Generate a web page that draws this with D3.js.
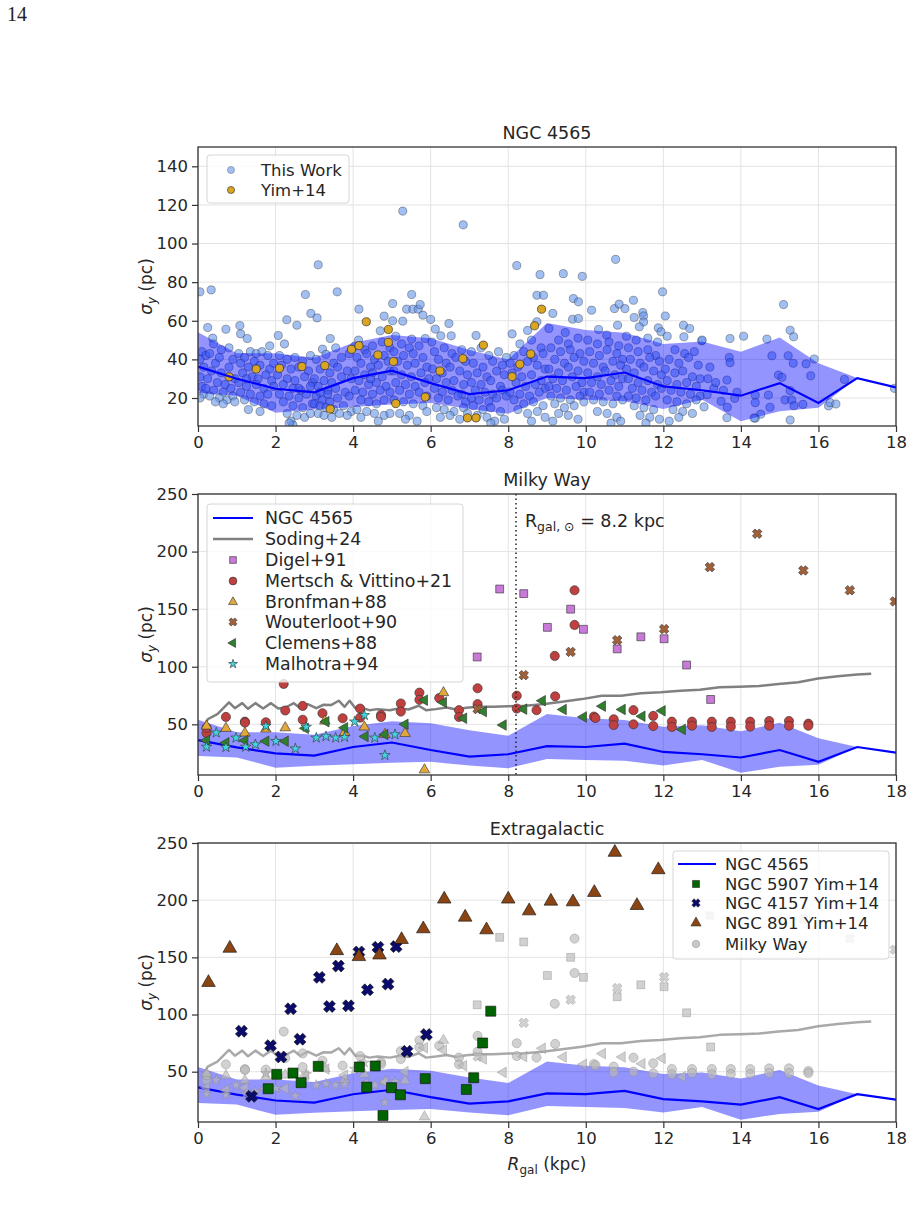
<!DOCTYPE html>
<html>
<head>
<meta charset="utf-8">
<script src="https://cdn.jsdelivr.net/npm/d3@7"></script>
<style>
  body { margin: 0; background: #fff; }
  svg { display: block; font-family: "DejaVu Sans", sans-serif; }
</style>
</head>
<body>
<div id="chart"></div>
<script>
// ---------------- data ----------------
// NGC 4565 binned mean and spread
var binR = [0,1,2,3,4,5,6,7,8,9,10,11,12,13,14,15,16,17,18];
var binMean = [36.3,30,24.8,22.9,30.3,34.2,27.7,22,24,31.1,30.3,33.2,26,24,21.2,27.7,17.4,30.3,25.5];
var bandR = [0,1,2,3,4,5,6,7,8,9,10,11,12,13,14,15,16,17];
var bandLow = [22.6,21.2,12.3,14,15.4,16.6,17.4,14.3,11.9,20,19.1,18.3,14.3,19.1,8,13.1,14.9,30.3];
var bandHigh = [54,43.2,43.2,40.9,48.6,52.6,50.9,44.9,40,58.9,55.2,53.8,48,49.2,44,51.4,38,30.3];

// NGC 4565 clouds, This Work [R, sigma]
var thisWork = [
  [0.05,75],[0.34,76],[0.25,56.5],[0.38,51],[0.72,55.6],[0.1,44],[0.2,42],[0.05,40],[0.3,43],[0.45,38],[0.55,41],[0.15,36],[0.35,34],[0.6,33],[0.8,36],[0.9,40],[0.05,31],[0.25,30],[0.5,28],[0.7,27],[0.95,30],[0.1,26],[0.4,24],[0.65,23],[0.85,25],[0.15,22],[0.3,21],[0.55,20],[0.75,19],[0.9,21],[0.05,20],[0.45,18],[0.65,17],[0.95,18],[0.2,25],[0.8,46],[0.6,45],[0.4,48],
  [1.08,57.5],[1.1,53.2],[1.27,50.8],[1.05,43],[1.2,41],[1.35,44],[1.5,43],[1.65,44],[1.8,42],[1.1,38],[1.3,36],[1.45,39],[1.6,37],[1.85,35],[1.95,38],[1.15,33],[1.4,31],[1.55,30],[1.75,32],[1.9,29],[1.05,28],[1.25,26],[1.5,27],[1.7,25],[1.95,26],[1.1,23],[1.35,22],[1.6,21],[1.8,22],[1.2,19],[1.45,18],[1.7,17],[1.9,16],[1.3,14],[1.6,13],[1.25,30],[1.85,47],
  [2.07,52.4],[2.23,48],[2.29,60.5],[2.55,57.7],[2.77,73.6],[2.91,63.8],[2.1,42],[2.3,40],[2.5,41],[2.7,39],[2.9,42],[2.15,37],[2.4,35],[2.6,36],[2.85,34],[2.05,32],[2.3,30],[2.5,29],[2.75,31],[2.95,28],[2.2,27],[2.45,25],[2.65,24],[2.9,26],[2.1,22],[2.35,21],[2.6,20],[2.8,22],[2.2,18],[2.45,16],[2.7,15],[2.95,17],[2.3,12],[2.4,8],[2.45,6],[2.35,7],[2.55,11],[2.75,10],[2.9,12],[2.6,25],
  [3.07,61.5],[3.1,89],[3.59,75],[3.41,50.8],[3.21,45.3],[3.3,42.6],[3.05,40],[3.5,38],[3.7,41],[3.9,43],[3.15,35],[3.4,33],[3.6,36],[3.85,34],[3.0,30],[3.25,29],[3.45,28],[3.7,31],[3.95,30],[3.1,26],[3.35,24],[3.55,25],[3.8,23],[3.05,21],[3.2,19],[3.4,18],[3.6,20],[3.9,21],[3.0,17],[3.15,16],[3.3,15],[3.5,14],[3.75,16],[3.95,13],[3.1,12],[3.25,11],[3.45,10],[3.65,12],[3.85,11],[3.35,22],[3.15,23],[3.55,46],
  [4.15,66],[4.14,50],[4.8,62.4],[4.7,54.8],[4.05,47],[4.3,45],[4.5,47],[4.75,49],[4.95,46],[4.1,41],[4.35,43],[4.55,40],[4.8,42],[4.2,38],[4.45,36],[4.65,37],[4.9,39],[4.05,34],[4.3,32],[4.5,33],[4.75,31],[4.95,34],[4.15,29],[4.4,27],[4.6,28],[4.85,26],[4.05,24],[4.25,23],[4.5,22],[4.7,24],[4.95,23],[4.2,19],[4.4,18],[4.6,17],[4.8,19],[4.1,14],[4.35,13],[4.55,12],[4.8,11],[4.95,12],[4.65,8],[4.2,10],[4.45,30],
  [5.28,116.8],[5.51,73.6],[5.02,68.9],[5.38,66],[5.54,66],[5.68,66],[5.73,68.4],[5.8,62.9],[5.28,59.8],[5.02,60],[5.51,50.5],[5.86,50.8],[5.1,52],[5.25,48],[5.45,46],[5.7,47],[5.05,44],[5.3,42],[5.55,43],[5.8,41],[5.15,39],[5.4,37],[5.6,38],[5.9,36],[5.05,34],[5.25,32],[5.5,31],[5.75,33],[5.95,30],[5.1,28],[5.35,27],[5.6,26],[5.85,28],[5.2,24],[5.45,22],[5.7,23],[5.9,21],[5.05,19],[5.3,18],[5.55,17],[5.8,16],[5.2,12],[5.45,11],[5.65,8],[5.35,9],[5.9,13],
  [6.0,60.7],[6.03,49],[6.12,55.7],[6.26,52.2],[6.47,58.6],[6.53,52.2],[6.84,109.7],[6.1,44],[6.35,46],[6.55,43],[6.8,45],[6.2,40],[6.4,38],[6.65,41],[6.9,39],[6.05,35],[6.3,33],[6.5,36],[6.75,34],[6.95,32],[6.15,30],[6.4,28],[6.6,29],[6.85,27],[6.1,25],[6.3,23],[6.55,24],[6.8,22],[6.2,20],[6.45,19],[6.7,21],[6.9,18],[6.15,15],[6.35,14],[6.6,13],[6.85,15],[6.25,10],[6.5,11],[6.75,9],[6.95,12],
  [7.17,52.4],[7.05,44],[7.3,46],[7.5,42],[7.75,44],[7.95,41],[7.1,38],[7.35,36],[7.6,39],[7.85,37],[7.2,33],[7.45,31],[7.7,34],[7.9,32],[7.05,28],[7.3,27],[7.55,29],[7.8,26],[7.15,24],[7.4,23],[7.6,22],[7.85,24],[7.05,20],[7.25,19],[7.5,18],[7.7,20],[7.95,21],[7.1,16],[7.35,14],[7.55,15],[7.8,13],[7.2,11],[7.45,10],[7.65,8],[7.9,9],[7.55,7],
  [8.22,88.6],[8.82,83.9],[8.74,73.2],[8.91,73.2],[8.74,59.5],[8.1,53.2],[8.5,55],[8.3,48],[8.6,50],[8.85,46],[8.15,42],[8.4,44],[8.65,41],[8.9,43],[8.05,38],[8.25,36],[8.5,39],[8.75,37],[8.95,35],[8.1,33],[8.35,31],[8.6,32],[8.85,29],[8.2,28],[8.45,26],[8.7,27],[8.95,25],[8.05,23],[8.3,22],[8.55,21],[8.8,23],[8.15,19],[8.4,17],[8.65,18],[8.9,16],[8.25,14],[8.5,12],[8.75,13],[8.95,10],[8.6,8],
  [9.15,63.8],[9.42,84.4],[9.91,83],[9.68,71.5],[9.81,69.8],[9.66,60.8],[9.81,61.2],[9.47,53.9],[9.05,56],[9.3,50],[9.55,48],[9.8,51],[9.1,46],[9.35,44],[9.6,45],[9.85,43],[9.2,40],[9.45,38],[9.7,41],[9.95,39],[9.05,35],[9.3,33],[9.55,36],[9.8,34],[9.15,30],[9.4,29],[9.65,31],[9.9,28],[9.05,26],[9.25,25],[9.5,24],[9.75,26],[9.95,23],[9.1,21],[9.35,20],[9.6,19],[9.85,21],[9.2,17],[9.45,15],[9.7,16],[9.95,18],[9.3,12],[9.55,11],[9.8,9],[9.15,8],
  [10.15,65.5],[10.77,91.8],[10.74,66.3],[10.86,68.6],[10.82,57.7],[10.33,55.5],[10.54,52.6],[10.05,50],[10.3,48],[10.6,49],[10.85,47],[10.1,44],[10.35,42],[10.55,45],[10.8,43],[10.95,40],[10.2,38],[10.45,36],[10.7,39],[10.9,37],[10.05,33],[10.3,31],[10.5,34],[10.75,32],[10.95,30],[10.15,28],[10.4,27],[10.65,29],[10.85,26],[10.1,23],[10.35,22],[10.6,24],[10.8,21],[10.2,19],[10.45,18],[10.7,17],[10.95,19],[10.3,13],[10.55,12],[10.8,10],[10.65,7],[10.9,8],
  [11.01,66.3],[11.23,70.6],[11.47,64.3],[11.49,62.5],[11.49,59.4],[11.25,61.7],[11.38,56.9],[11.87,56.3],[11.94,54.3],[11.98,75],[11.05,52],[11.3,50],[11.6,51],[11.85,49],[11.1,46],[11.35,44],[11.6,45],[11.8,42],[11.15,40],[11.4,38],[11.65,41],[11.9,39],[11.05,35],[11.25,33],[11.5,36],[11.75,34],[11.95,32],[11.1,30],[11.35,28],[11.6,29],[11.85,27],[11.2,25],[11.45,24],[11.7,23],[11.95,25],[11.1,21],[11.3,20],[11.55,19],[11.8,21],[11.25,16],[11.5,15],[11.75,14],[11.4,11],[11.65,10],[11.9,9],[11.55,7],
  [12.05,62.5],[12.52,57.7],[12.68,56],[12.53,51.7],[12.99,49.6],[12.1,52],[12.3,45],[12.55,43],[12.8,44],[12.15,40],[12.4,38],[12.65,41],[12.9,37],[12.05,35],[12.3,33],[12.5,34],[12.75,31],[12.95,30],[12.1,29],[12.35,27],[12.6,28],[12.85,26],[12.2,24],[12.45,23],[12.7,22],[12.95,21],[12.1,19],[12.35,18],[12.6,17],[12.85,19],[12.25,14],[12.5,13],[12.75,12],[12.4,10],[12.15,8],
  [13.0,50],[13.15,30],[13.05,15.4],[13.13,21.7],[13.3,25],[13.49,18.3],[13.2,36],[13.35,28],[13.72,50.8],[14.07,52],[14.67,50.5],[15.27,55.1],[15.36,51.7],[13.7,41],[13.72,38.3],[14.8,41.9],[15.22,41.9],[15.35,38],[15.68,37.7],[15.89,40.2],[15.8,31.5],[14.97,31.9],[15.06,30.7],[16.67,29.6],[17.96,25],[13.65,15.2],[13.84,19.8],[13.64,9.8],[14.37,21.5],[14.37,17.6],[14.71,21.5],[14.75,15.2],[15.14,19],[15.31,19],[15.37,16],[15.6,16.7],[15.27,23.8],[14.51,11.6],[14.37,9.5],[15.27,8.6],[16.26,15.9],[16.3,17.6],[16.45,16.9],[13.64,29.3],[15.1,68.4],[14.34,9.7],[13.55,24],[13.9,23]
];
var yim14 = [[0.8,31],[1.5,35],[2.1,35.4],[2.68,36.3],[3.27,36.8],[3.41,14.3],[3.96,45.2],[4.15,47.1],[4.34,59.5],[4.64,42.3],[4.91,55.5],[4.91,48.8],[5.04,38.9],[5.1,17.1],[5.86,20.5],[6.24,34],[6.83,40.4],[6.95,9.7],[7.17,9.7],[7.36,47.4],[8.1,31.1],[8.3,37.5],[8.58,42.8],[8.68,57.4],[8.86,66]];

// Milky Way
var sodingR = [0.13,0.25,0.5,0.8,0.95,1.14,1.29,1.48,1.68,1.88,2.07,2.26,2.47,2.64,2.83,3.05,3.24,3.43,3.63,3.78,3.91,4.06,4.25,4.42,4.63,4.95,5.2,5.43,5.69,5.88,6.13,6.41,6.66,6.92,7.23,7.61,8.0,8.44,8.88,9.39,9.9,10.41,10.91,11.42,11.93,12.44,12.94,13.45,13.96,14.47,14.97,15.48,15.99,16.5,17.0,17.36];
var sodingSig = [47,54.4,58.8,69,64,68.4,63.5,68.4,63.7,68.4,63.7,64.6,68.4,64,67.5,64,67,66.7,70.5,65.2,70.5,64,64,62.3,63.2,62.3,64,62.9,66.1,62.3,63.2,64.6,62.9,64.3,65.2,65.2,65.8,66.1,67.5,69.6,71.9,74.9,74.9,76.9,77.8,79.2,80.1,82.2,82.7,83.3,85.1,86.5,89.8,91.8,93.3,93.9];
var digel91 = [[7.78,167.5],[8.4,163.5],[9.61,150],[9.01,134.2],[9.94,132.5],[11.42,126],[10.81,115.5],[12.02,124.3],[12.6,101.5],[7.2,108.5],[13.22,71.6]];
var mertsch21 = [[0.22,42.4],[0.22,47],[0.72,56.4],[1.21,52.3],[1.21,51.5],[1.75,51.8],[2.21,85.1],[2.25,62],[2.7,66],[2.7,54],[3.21,59.6],[3.73,55.3],[4.18,63.7],[4.18,55.8],[4.72,58.2],[4.72,56.4],[5.23,68.1],[5.23,61.1],[5.71,77.5],[5.71,71.3],[6.22,72.8],[6.73,62.3],[6.73,56.4],[7.21,81.3],[7.21,67.5],[8.22,74.9],[8.22,63.7],[8.73,62.3],[9.2,109.4],[9.21,74.3],[9.71,166.4],[9.71,136.3],[10.21,56.7],[10.25,55.5],[10.72,54.4],[10.72,49.4],[11.23,62.3],[11.23,50],[11.74,57.3],[11.74,48.5],[12.22,52.3],[12.22,47.7],[12.74,52.3],[12.74,48.8],[13.25,52.3],[13.25,47.7],[13.74,52.3],[13.74,48],[14.24,52.3],[14.24,48],[14.73,52.9],[14.73,48.8],[15.24,52.9],[15.24,48.8],[15.74,50.6],[15.74,48.8]];
var bronfman88 = [[0.22,48.5],[0.72,46.5],[1.21,42.4],[1.75,45.9],[2.25,47],[3.27,52.9],[3.78,43],[4.29,47.7],[4.82,41.2],[5.34,42.1],[5.84,10.5],[6.33,77.5]];
var wouterloot90 = [[14.42,215.5],[13.2,186.5],[15.61,183.6],[16.81,166.4],[17.97,156.7],[12.02,132.7],[10.81,123.1],[9.61,112.9],[8.4,92.7],[7.21,63.2]];
var clemens88 = [[0.22,36],[0.72,33.9],[1.21,36],[1.75,35.4],[2.25,35.4],[2.77,46.5],[3.3,52.3],[3.78,47],[4.31,39.5],[4.82,41.2],[5.34,50],[5.84,71],[6.33,69],[6.85,55.3],[7.36,61.1],[7.87,49.4],[8.4,63.2],[8.88,70.5],[9.42,62.9],[9.94,56.4],[10.43,65.8],[10.94,62.9],[11.45,57],[11.97,61.7],[12.49,45.6]];
var malhotra94 = [[0.22,30.4],[0.47,42.7],[0.72,30.1],[0.98,38.3],[1.23,30.4],[1.48,32.5],[1.75,48.5],[2.01,35.4],[2.51,28.9],[2.79,47.7],[3.05,38.3],[3.3,39.5],[3.55,38.3],[3.78,38.9],[4.04,52.3],[4.29,57.9],[4.56,38.3],[4.82,23.1],[5.08,41.2]];
var sunR = 8.2;

// Extragalactic, Yim+14
var ngc5907 = [[1.81,35.1],[2.03,47.7],[2.45,48.8],[2.66,40.4],[3.1,54.7],[4.16,54.1],[4.35,36.5],[4.57,55],[4.99,36],[5.22,29.8],[4.77,11.7],[5.86,43.9],[6.92,34.5],[7.11,44.7],[7.34,75.1],[7.55,102.9]];
var ngc4157 = [[1.38,28.4],[1.12,85.4],[1.87,72.8],[2.14,62.9],[2.39,105],[2.63,78.4],[3.13,132.5],[3.39,107],[3.62,142.4],[3.88,107.6],[4.15,154.7],[4.37,121.6],[4.64,158.8],[4.9,126.6],[5.11,159.4],[5.39,67.8],[5.89,82.5]];
var ngc891 = [[0.27,128],[0.82,157.9],[3.58,155.8],[4.15,150.6],[4.68,152],[5.25,165.5],[5.81,174.9],[6.35,200.9],[6.89,185.1],[7.44,174],[8.0,200.9],[8.54,190.6],[9.1,199.1],[9.67,198.5],[10.22,206.7],[10.75,241.8],[11.32,195.3],[11.87,226.6]];

var xTicks = [0,2,4,6,8,10,12,14,16,18];

// ---------------- drawing ----------------
var svgWidth = 916, svgHeight = 1216;
var plotLeft = 198, plotRight = 896;

var svg = d3.select("#chart").append("svg")
  .attr("width", svgWidth)
  .attr("height", svgHeight);

// page number
svg.append("text").attr("x", 7).attr("y", 21)
  .attr("font-family", "Liberation Serif, serif").attr("font-size", 20)
  .attr("fill", "#222").text("14");

// filled "X" marker like matplotlib's 'X'
var symbolXFilled = {
  draw: function(ctx, size) {
    var r = Math.sqrt(size) / 2, w = r * 0.38;
    var pts = [[w,r],[w,w],[r,w],[r,-w],[w,-w],[w,-r],[-w,-r],[-w,-w],[-r,-w],[-r,w],[-w,w],[-w,r]];
    pts.forEach(function(p, i) {
      var px = (p[0] - p[1]) / Math.SQRT2, py = (p[0] + p[1]) / Math.SQRT2;
      if (i === 0) ctx.moveTo(px, py); else ctx.lineTo(px, py);
    });
    ctx.closePath();
  }
};

function makePanel(id, top, bottom, yDomain, yTicks, title) {
  var g = svg.append("g");
  var x = d3.scaleLinear().domain([0, 18]).range([plotLeft, plotRight]);
  var y = d3.scaleLinear().domain(yDomain).range([bottom, top]);

  // grid
  g.append("g").selectAll("line").data(xTicks).enter().append("line")
    .attr("x1", function(d) { return x(d); }).attr("x2", function(d) { return x(d); })
    .attr("y1", top).attr("y2", bottom)
    .attr("stroke", "#e3e3e3").attr("stroke-width", 1);
  g.append("g").selectAll("line").data(yTicks).enter().append("line")
    .attr("x1", plotLeft).attr("x2", plotRight)
    .attr("y1", function(d) { return y(d); }).attr("y2", function(d) { return y(d); })
    .attr("stroke", "#e3e3e3").attr("stroke-width", 1);

  svg.append("clipPath").attr("id", "clip" + id)
    .append("rect").attr("x", plotLeft).attr("y", top)
    .attr("width", plotRight - plotLeft).attr("height", bottom - top);
  var plot = g.append("g").attr("clip-path", "url(#clip" + id + ")");

  // axes
  var xAxis = d3.axisBottom(x).tickValues(xTicks).tickSize(6).tickPadding(4).tickFormat(d3.format("d"));
  var yAxis = d3.axisLeft(y).tickValues(yTicks).tickSize(6).tickPadding(4).tickFormat(d3.format("d"));
  var gx = g.append("g").attr("transform", "translate(0," + bottom + ")").call(xAxis);
  var gy = g.append("g").attr("transform", "translate(" + plotLeft + ",0)").call(yAxis);
  [gx, gy].forEach(function(a) {
    a.select(".domain").remove();
    a.selectAll(".tick line").attr("stroke", "#333").attr("stroke-width", 1.2);
    a.selectAll(".tick text").attr("fill", "#262626").attr("font-size", 16.5)
      .attr("font-family", "DejaVu Sans, sans-serif");
  });

  // title
  g.append("text").attr("x", (plotLeft + plotRight) / 2).attr("y", top - 8)
    .attr("text-anchor", "middle").attr("font-size", 17.5).attr("fill", "#262626")
    .text(title);

  // y label
  var yl = g.append("text")
    .attr("transform", "translate(152," + ((top + bottom) / 2) + ")rotate(-90)")
    .attr("text-anchor", "middle").attr("font-size", 17).attr("fill", "#262626");
  yl.append("tspan").attr("font-style", "italic").text("σ");
  yl.append("tspan").attr("font-style", "italic").attr("font-size", 12).attr("dy", 4).text("y");
  yl.append("tspan").attr("dy", -4).text(" (pc)");

  return { g: g, plot: plot, x: x, y: y, top: top, bottom: bottom, frame: function() {
    g.append("rect").attr("x", plotLeft).attr("y", top)
      .attr("width", plotRight - plotLeft).attr("height", bottom - top)
      .attr("fill", "none").attr("stroke", "#333").attr("stroke-width", 1.3);
  }};
}

function drawBand(p) {
  var area = d3.area()
    .x(function(d, i) { return p.x(bandR[i]); })
    .y0(function(d, i) { return p.y(bandLow[i]); })
    .y1(function(d, i) { return p.y(bandHigh[i]); });
  p.plot.append("path").datum(bandR).attr("d", area)
    .attr("fill", "#0000ff").attr("fill-opacity", 0.42).attr("stroke", "none");
}
function drawMean(p) {
  var line = d3.line()
    .x(function(d, i) { return p.x(binR[i]); })
    .y(function(d, i) { return p.y(binMean[i]); });
  p.plot.append("path").datum(binR).attr("d", line)
    .attr("fill", "none").attr("stroke", "#0000ff").attr("stroke-width", 2.2);
}
function drawSoding(p, color, op) {
  var line = d3.line()
    .x(function(d, i) { return p.x(sodingR[i]); })
    .y(function(d, i) { return p.y(sodingSig[i]); });
  p.plot.append("path").datum(sodingR).attr("d", line)
    .attr("fill", "none").attr("stroke", color).attr("stroke-opacity", op)
    .attr("stroke-width", 2.5).attr("stroke-linejoin", "round");
}

function scatter(p, data, o) {
  var sym = d3.symbol().type(o.type).size(o.size);
  p.plot.append("g").selectAll("path").data(data).enter().append("path")
    .attr("transform", function(d) {
      return "translate(" + p.x(d[0]) + "," + p.y(d[1]) + ")" + (o.rot ? "rotate(" + o.rot + ")" : "");
    })
    .attr("d", sym)
    .attr("fill", o.fill).attr("fill-opacity", o.fo == null ? 1 : o.fo)
    .attr("stroke", o.stroke || "#333").attr("stroke-opacity", o.so == null ? 0.9 : o.so)
    .attr("stroke-width", o.sw || 0.7);
}

function legend(bx, by, bw, bh, entries, rowY, markX, textX, lineX0, lineX1, fontSize) {
  var lg = svg.append("g");
  lg.append("rect").attr("x", bx).attr("y", by).attr("width", bw).attr("height", bh)
    .attr("rx", 3).attr("fill", "#fff").attr("fill-opacity", 0.8)
    .attr("stroke", "#d6d6d6").attr("stroke-width", 1);
  entries.forEach(function(e, i) {
    var yy = rowY[i];
    if (e.line) {
      lg.append("line").attr("x1", lineX0).attr("x2", lineX1).attr("y1", yy).attr("y2", yy)
        .attr("stroke", e.line).attr("stroke-width", e.lw || 2.2);
    } else {
      lg.append("path")
        .attr("transform", "translate(" + markX + "," + yy + ")" + (e.rot ? "rotate(" + e.rot + ")" : ""))
        .attr("d", d3.symbol().type(e.type).size(e.size))
        .attr("fill", e.fill).attr("fill-opacity", e.fo == null ? 1 : e.fo)
        .attr("stroke", e.stroke || "#333").attr("stroke-opacity", e.so == null ? 0.9 : e.so)
        .attr("stroke-width", 0.7);
    }
    lg.append("text").attr("x", textX).attr("y", yy).attr("dy", "0.36em")
      .attr("font-size", fontSize).attr("fill", "#262626").text(e.label);
  });
}

// styles for the Milky Way sets
var mwSets = [
  { data: digel91, type: d3.symbolSquare, size: 62, fill: "#c97ad9", label: "Digel+91" },
  { data: mertsch21, type: d3.symbolCircle, size: 66, fill: "#c0403f", label: "Mertsch & Vittino+21" },
  { data: bronfman88, type: d3.symbolTriangle, size: 48, fill: "#e3a83c", label: "Bronfman+88" },
  { data: wouterloot90, type: symbolXFilled, size: 95, fill: "#a0603a", label: "Wouterloot+90" },
  { data: clemens88, type: d3.symbolTriangle, size: 48, fill: "#2f7f2f", rot: -90, label: "Clemens+88" },
  { data: malhotra94, type: d3.symbolStar, size: 34, fill: "#3fd6df", label: "Malhotra+94" }
];

// ---- panel 1: NGC 4565 ----
var p1 = makePanel(1, 147, 426, [5.5, 150], [20,40,60,80,100,120,140], "NGC 4565");
scatter(p1, thisWork, { type: d3.symbolCircle, size: 52, fill: "#6495ed", fo: 0.6, stroke: "#1a1a1a", so: 0.45, sw: 0.8 });
drawBand(p1);
scatter(p1, yim14, { type: d3.symbolCircle, size: 52, fill: "#daa520", stroke: "#222", so: 0.9 });
drawMean(p1);
p1.frame();
legend(207, 155, 142, 48, [
  { label: "This Work", type: d3.symbolCircle, size: 40, fill: "#6495ed", fo: 0.6, so: 0.45 },
  { label: "Yim+14", type: d3.symbolCircle, size: 40, fill: "#daa520" }
], [170, 190], 231, 261, 0, 0, 16.5);

// ---- panel 2: Milky Way ----
var p2 = makePanel(2, 494, 775, [6, 250], [50,100,150,200,250], "Milky Way");
drawBand(p2);
drawMean(p2);
drawSoding(p2, "#808080", 1);
mwSets.forEach(function(s) {
  scatter(p2, s.data, { type: s.type, size: s.size, fill: s.fill, rot: s.rot });
});
p2.plot.append("line").attr("x1", p2.x(sunR)).attr("x2", p2.x(sunR))
  .attr("y1", p2.top).attr("y2", p2.bottom)
  .attr("stroke", "#222").attr("stroke-width", 1.5).attr("stroke-dasharray", "1.5,3");
var ann = p2.g.append("text").attr("x", p2.x(8.43)).attr("y", p2.y(227)).attr("dy", "0.36em")
  .attr("font-size", 17.5).attr("fill", "#262626");
ann.append("tspan").text("R");
ann.append("tspan").attr("font-size", 12.5).attr("dy", 4).text("gal, ⊙");
ann.append("tspan").attr("dy", -4).text(" = 8.2 kpc");
p2.frame();
legend(207, 504, 256, 178,
  [{ label: "NGC 4565", line: "#0000ff" }, { label: "Soding+24", line: "#808080", lw: 2.5 }].concat(
    mwSets.map(function(s) {
      return { label: s.label, type: s.type, size: s.size * 0.72, fill: s.fill, rot: s.rot };
    })),
  [518, 539, 560, 581, 602, 622, 643, 664], 233, 265, 213, 253, 17.4);

// ---- panel 3: Extragalactic ----
var p3 = makePanel(3, 843, 1122, [6, 250], [50,100,150,200,250], "Extragalactic");
drawBand(p3);
drawMean(p3);
drawSoding(p3, "#8c8c8c", 0.75);
mwSets.forEach(function(s) {
  scatter(p3, s.data, { type: s.type, size: s.size, fill: "#b9b9b9", fo: 0.65, stroke: "#8a8a8a", so: 0.6, rot: s.rot });
});
scatter(p3, ngc5907, { type: d3.symbolSquare, size: 100, fill: "#006400", stroke: "#111" });
scatter(p3, ngc4157, { type: symbolXFilled, size: 150, fill: "#0b0b6b", stroke: "#111" });
scatter(p3, ngc891, { type: d3.symbolTriangle, size: 80, fill: "#8b4513", stroke: "#111" });
p3.frame();
legend(673, 851, 216, 108, [
  { label: "NGC 4565", line: "#0000ff" },
  { label: "NGC 5907 Yim+14", type: d3.symbolSquare, size: 50, fill: "#006400" },
  { label: "NGC 4157 Yim+14", type: symbolXFilled, size: 75, fill: "#0b0b6b" },
  { label: "NGC 891 Yim+14", type: d3.symbolTriangle, size: 45, fill: "#8b4513" },
  { label: "Milky Way", type: d3.symbolCircle, size: 45, fill: "#b9b9b9", fo: 0.8, stroke: "#8a8a8a", so: 0.6 }
], [864, 884, 903, 923, 944], 696, 725, 678, 716, 16.5);

// x label under the last panel
var xl = svg.append("text").attr("x", (plotLeft + plotRight) / 2).attr("y", 1170)
  .attr("text-anchor", "middle").attr("font-size", 17).attr("fill", "#262626");
xl.append("tspan").attr("font-style", "italic").text("R");
xl.append("tspan").attr("font-size", 12).attr("dy", 4).text("gal");
xl.append("tspan").attr("dy", -4).text(" (kpc)");
</script>
</body>
</html>
